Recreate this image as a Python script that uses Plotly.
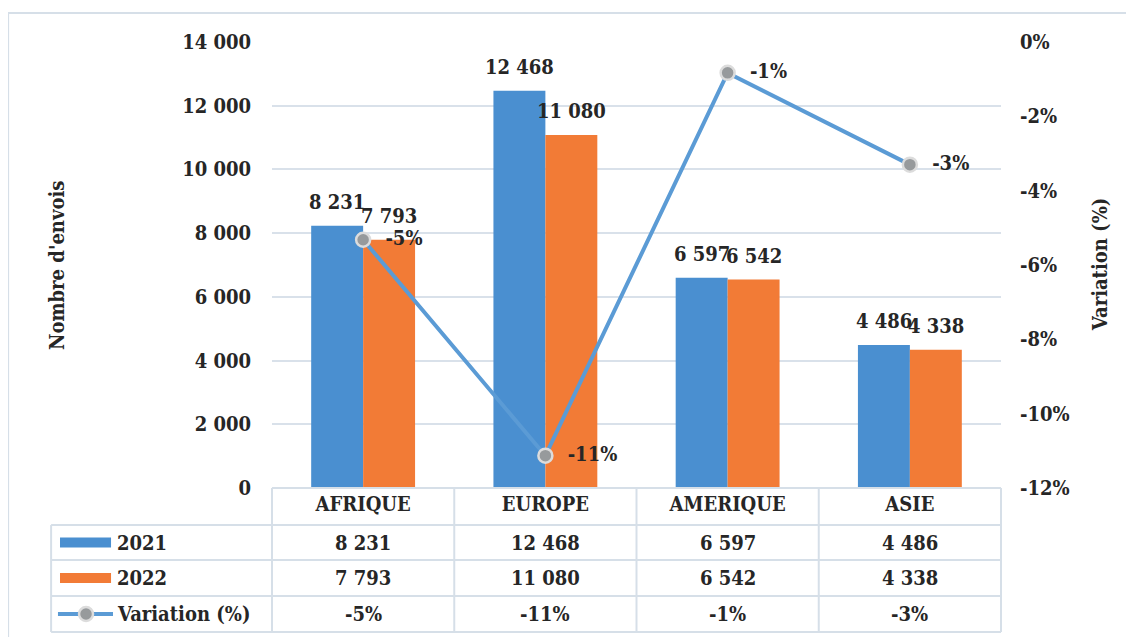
import plotly.graph_objects as go

# Data
regions = ['AFRIQUE', 'EUROPE', 'AMERIQUE', 'ASIE']
envois_2021 = [8231, 12468, 6597, 4486]
envois_2022 = [7793, 11080, 6542, 4338]
variation = [-5.32, -11.13, -0.83, -3.30]  # %

left_ticks = [0, 2000, 4000, 6000, 8000, 10000, 12000, 14000]
right_ticks = [0, -2, -4, -6, -8, -10, -12]

BLUE = '#4A8FD0'
ORANGE = '#F27B36'
LINE = '#5B9BD5'
GRID = '#D9E1EA'
TXT = '#262626'
FONT = 'DejaVu Serif Condensed, DejaVu Serif'
FS = 20


def fmt_int(v):
    return f"{v:,}".replace(',', ' ')


def fmt_pct(v):
    return f"{v:.0f}%"


def bold(size=FS):
    return dict(family=FONT, size=size, color=TXT, weight='bold')


fig = go.Figure()

fig.add_trace(go.Bar(
    x=regions, y=envois_2021, name='2021',
    marker=dict(color=BLUE, line=dict(width=0)),
))
fig.add_trace(go.Bar(
    x=regions, y=envois_2022, name='2022',
    marker=dict(color=ORANGE, line=dict(width=0)),
))
fig.add_trace(go.Scatter(
    x=regions, y=variation, name='Variation (%)', yaxis='y2',
    mode='lines+markers+text',
    line=dict(color=LINE, width=4),
    marker=dict(size=14, color='#979A9C', line=dict(color='#DCDCDC', width=2.5)),
    text=['  ' + fmt_pct(v) for v in variation], textposition='middle right',
    textfont=bold(),
    cliponaxis=False,
))

annotations = []
# bar value labels
for vals, shift in [(envois_2021, -26), (envois_2022, 26)]:
    for reg, v in zip(regions, vals):
        annotations.append(dict(xref='x', yref='y', x=reg, y=v, text=fmt_int(v), showarrow=False,
                                xanchor='center', yanchor='bottom', xshift=shift, yshift=10,
                                font=bold()))

# Data table below the plot (paper coords: plot area bottom = 0)
row_lines = [0, -0.083, -0.1614, -0.2422, -0.3229]
row_mid = [-0.1222, -0.2018, -0.2825]
left_x = -0.303
shapes = []
tbl = dict(color='#D6DFE8', width=2)
shapes.append(dict(type='line', xref='paper', yref='paper', x0=0, x1=1, y0=0, y1=0, line=tbl))
for y in row_lines[1:]:
    shapes.append(dict(type='line', xref='paper', yref='paper', x0=left_x, x1=1, y0=y, y1=y, line=tbl))
for x in [0, 0.25, 0.5, 0.75, 1]:
    shapes.append(dict(type='line', xref='paper', yref='paper', x0=x, x1=x, y0=0, y1=row_lines[-1], line=tbl))
shapes.append(dict(type='line', xref='paper', yref='paper', x0=left_x, x1=left_x,
                   y0=row_lines[1], y1=row_lines[-1], line=tbl))

# legend keys in the table
shapes.append(dict(type='rect', xref='paper', yref='paper', x0=-0.2908, x1=-0.2208,
                   y0=row_mid[0] - 0.011, y1=row_mid[0] + 0.011, fillcolor=BLUE, line=dict(width=0)))
shapes.append(dict(type='rect', xref='paper', yref='paper', x0=-0.2908, x1=-0.2208,
                   y0=row_mid[1] - 0.011, y1=row_mid[1] + 0.011, fillcolor=ORANGE, line=dict(width=0)))
shapes.append(dict(type='line', xref='paper', yref='paper', x0=-0.2936, x1=-0.2181,
                   y0=row_mid[2], y1=row_mid[2], line=dict(color=LINE, width=4)))
shapes.append(dict(type='circle', xref='paper', yref='paper', x0=-0.2647, x1=-0.2455,
                   y0=row_mid[2] - 0.0157, y1=row_mid[2] + 0.0157,
                   fillcolor='#979A9C', line=dict(color='#DCDCDC', width=2.5)))

# chart frame
shapes.append(dict(type='rect', xref='paper', yref='paper', x0=-0.362, x1=1.3, y0=-0.45, y1=1.065,
                   line=dict(color='#D6DFE8', width=2), layer='below'))

row_labels = ['2021', '2022', 'Variation (%)']
for lab, y in zip(row_labels, row_mid):
    annotations.append(dict(xref='paper', yref='paper', x=-0.215, y=y, text=lab, showarrow=False,
                            xanchor='left', yanchor='middle', font=bold()))
table_rows = [[fmt_int(v) for v in envois_2021],
              [fmt_int(v) for v in envois_2022],
              [fmt_pct(v) for v in variation]]
for vals, y in zip(table_rows, row_mid):
    for reg, t in zip(regions, vals):
        annotations.append(dict(xref='x', yref='paper', x=reg, y=y, text=t, showarrow=False,
                                xanchor='center', yanchor='middle', font=bold()))

# axis titles
annotations.append(dict(xref='paper', yref='paper', x=-0.295, y=0.5, text="Nombre d'envois",
                        textangle=-90, showarrow=False, xanchor='center', yanchor='middle',
                        font=bold()))
annotations.append(dict(xref='paper', yref='paper', x=1.136, y=0.5, text='Variation (%)',
                        textangle=-90, showarrow=False, xanchor='center', yanchor='middle',
                        font=bold()))

# the page adds an 8px body margin, so the figure is 8px smaller than the window
fig.update_layout(
    width=1126, height=629,
    margin=dict(l=264, r=133, t=34, b=149),
    paper_bgcolor='white', plot_bgcolor='white',
    font=bold(),
    barmode='group', bargap=0.43, bargroupgap=0,
    showlegend=False,
    xaxis=dict(showgrid=False, showline=False, ticks='', tickfont=bold(),
               ticklabelstandoff=2),
    yaxis=dict(range=[0, 14000], tickvals=left_ticks, ticktext=[fmt_int(v) for v in left_ticks],
               showgrid=True, gridcolor=GRID, gridwidth=1.5, zeroline=False, showline=False,
               ticklabelstandoff=20, tickfont=bold()),
    yaxis2=dict(overlaying='y', side='right', range=[-12, 0], tickvals=right_ticks,
                ticktext=[fmt_pct(v) for v in right_ticks], showgrid=False, zeroline=False,
                showline=False, ticklabelstandoff=18, tickfont=bold()),
    shapes=shapes,
    annotations=annotations,
)

fig.write_html('out.html')
